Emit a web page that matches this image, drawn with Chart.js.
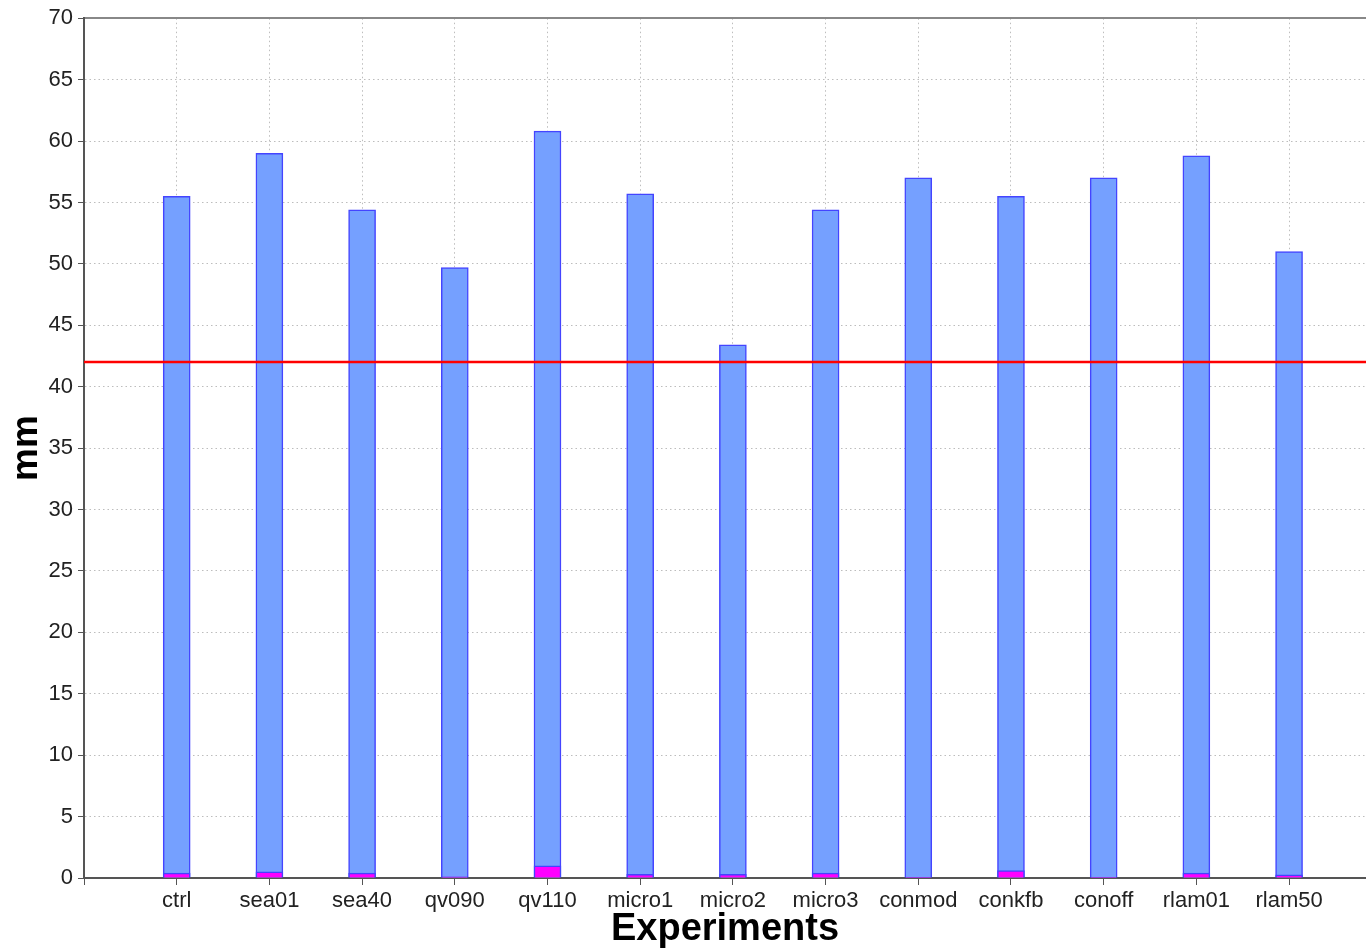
<!DOCTYPE html>
<html>
<head>
<meta charset="utf-8">
<script src="https://cdn.jsdelivr.net/npm/chart.js@4.4.0/dist/chart.umd.min.js"></script>
<style>
  html, body { margin: 0; padding: 0; background: #fff; }
  #chart { display: block; }
</style>
</head>
<body>
<canvas id="chart" width="1366" height="952"></canvas>
<script>
// experiment names along the x axis
const categories = ['ctrl', 'sea01', 'sea40', 'qv090', 'qv110', 'micro1', 'micro2', 'micro3', 'conmod', 'conkfb', 'conoff', 'rlam01', 'rlam50'];
// tall blue bars (mm)
const blueValues = [55.5, 59.0, 54.4, 49.7, 60.8, 55.7, 43.4, 54.4, 57.0, 55.5, 57.0, 58.8, 51.0];
// small magenta bars at the bottom (mm)
const magentaValues = [0.4, 0.5, 0.4, 0.1, 1.0, 0.3, 0.3, 0.4, 0.05, 0.6, 0.05, 0.4, 0.25];
// red reference line
const refLevel = 42;
const yTicks = [0, 5, 10, 15, 20, 25, 30, 35, 40, 45, 50, 55, 60, 65, 70];

const xMax = 13.83;
const fontFamily = '"Liberation Sans", Arial, Helvetica, sans-serif';

const toPoints = vals => vals.map((v, i) => ({ x: i + 1, y: v }));

new Chart(document.getElementById('chart'), {
	type: 'bar',
	data: {
		datasets: [
			{
				type: 'line',
				data: [{ x: 0, y: refLevel }, { x: xMax, y: refLevel }],
				borderColor: '#ff0000',
				borderWidth: 2.5,
				pointRadius: 0,
				order: 0
			},
			{
				data: toPoints(magentaValues),
				backgroundColor: '#ff00ff',
				borderColor: '#4444ff',
				borderWidth: 1.5,
				barThickness: 27,
				grouped: false,
				order: 1
			},
			{
				data: toPoints(blueValues),
				backgroundColor: '#75a0ff',
				borderColor: '#4444ff',
				borderWidth: 1.5,
				barThickness: 27,
				grouped: false,
				order: 2
			}
		]
	},
	options: {
		responsive: false,
		devicePixelRatio: 1,
		animation: false,
		layout: { padding: { top: 15, right: 0, left: 0, bottom: 0 } },
		plugins: { legend: { display: false }, tooltip: { enabled: false } },
		scales: {
			x: {
				type: 'linear',
				min: 0,
				max: xMax,
				offset: false,
				grid: {
					offset: false,
					color: '#bdbdbd',
					lineWidth: 1,
					tickColor: '#555',
					tickLength: 7
				},
				border: { color: '#555', width: 2, dash: [1.5, 3] },
				afterBuildTicks: scale => {
					scale.ticks = categories.map((c, i) => ({ value: i + 1 }));
					scale.ticks.unshift({ value: 0 });
				},
				ticks: {
					autoSkip: false,
					maxRotation: 0,
					padding: 3,
					color: '#222',
					font: { family: fontFamily, size: 22 },
					callback: v => categories[v - 1] || ''
				},
				title: {
					display: true,
					text: 'Experiments',
					color: '#000',
					font: { family: fontFamily, size: 38, weight: 'bold' },
					padding: { top: 0, bottom: 0 }
				},
				afterFit: scale => { scale.height = 74; }
			},
			xTop: {
				type: 'linear',
				position: 'top',
				min: 0,
				max: xMax,
				grid: { display: false, drawTicks: false },
				ticks: { display: false },
				border: { display: true, color: '#888', width: 2 },
				afterFit: scale => { scale.height = 0; }
			},
			y: {
				min: 0,
				max: 70,
				afterBuildTicks: scale => { scale.ticks = yTicks.map(v => ({ value: v })); },
				grid: {
					color: '#bdbdbd',
					lineWidth: 1,
					tickColor: '#555',
					tickLength: 6
				},
				border: { color: '#555', width: 2, dash: [1.5, 3] },
				ticks: {
					padding: 5,
					color: '#222',
					font: { family: fontFamily, size: 22 }
				},
				title: {
					display: true,
					text: 'mm',
					color: '#000',
					font: { family: fontFamily, size: 37, weight: 'bold' },
					padding: { top: 5, bottom: 0 }
				},
				afterFit: scale => { scale.width = 84; }
			}
		}
	}
});
</script>
</body>
</html>
